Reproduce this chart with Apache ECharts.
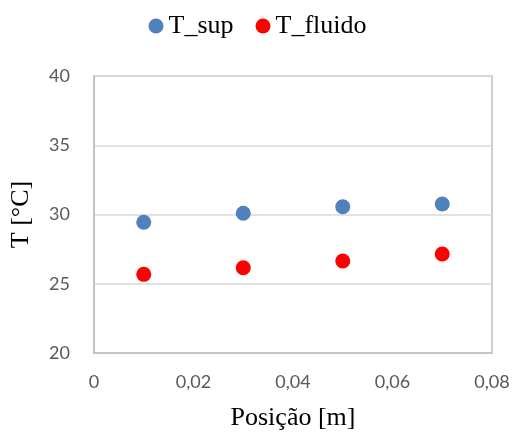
<!DOCTYPE html>
<html>
<head>
<meta charset="utf-8">
<script src="https://cdn.jsdelivr.net/npm/echarts@6/dist/echarts.min.js"></script>
<style>
  html, body { margin: 0; padding: 0; background: #fff; }
  #chart { width: 515px; height: 437px; }
</style>
</head>
<body>
<div id="chart"></div>
<script>
// Measurement positions along the channel [m]
const positions = [0.01, 0.03, 0.05, 0.07];
// Surface temperature [°C]
const tSup = [29.44, 30.09, 30.56, 30.76];
// Fluid temperature [°C]
const tFluido = [25.68, 26.16, 26.64, 27.15];

const seriesNames = ['T_sup', 'T_fluido'];
const xTickLabels = ['0', '0,02', '0,04', '0,06', '0,08'];

const pairs = (xs, ys) => xs.map((x, i) => [x, ys[i]]);

const serif = "'Liberation Serif', 'Times New Roman', serif";

const chart = echarts.init(document.getElementById('chart'), null, { renderer: 'canvas' });

chart.setOption({
  animation: false,
  backgroundColor: '#ffffff',
  legend: {
    top: 8,
    left: 'center',
    itemWidth: 15,
    itemHeight: 15,
    itemGap: 22,
    icon: 'circle',
    textStyle: { fontFamily: serif, fontSize: 26, color: '#000' },
    data: seriesNames
  },
  grid: {
    left: 90, right: 23, top: 76, bottom: 84,
    show: true, borderColor: '#bfbfbf', borderWidth: 1.5, containLabel: false
  },
  xAxis: {
    type: 'value',
    min: 0, max: 0.08, interval: 0.02,
    name: 'Posição [m]',
    nameLocation: 'middle',
    nameGap: 52,
    nameTextStyle: { fontFamily: serif, fontSize: 26, color: '#000' },
    axisLine: { show: true, lineStyle: { color: '#bfbfbf', width: 1.5 } },
    axisTick: { show: false },
    splitLine: { show: false },
    axisLabel: {
      margin: 20,
      fontFamily: 'Lato', fontSize: 18, color: '#595959',
      formatter: (v) => xTickLabels[Math.round(v / 0.02)]
    }
  },
  yAxis: {
    type: 'value',
    min: 20, max: 40, interval: 5,
    name: 'T [°C]',
    nameLocation: 'middle',
    nameGap: 60,
    nameRotate: 90,
    nameTextStyle: { fontFamily: serif, fontSize: 26, color: '#000' },
    axisLine: { show: true, lineStyle: { color: '#bfbfbf', width: 1.5 } },
    axisTick: { show: false },
    splitLine: { show: true, lineStyle: { color: '#d9d9d9', width: 1.5 } },
    axisLabel: { margin: 24, fontFamily: 'Lato', fontSize: 18, color: '#595959' }
  },
  series: [
    {
      name: seriesNames[0],
      type: 'scatter',
      symbol: 'circle',
      symbolSize: 15,
      itemStyle: { color: '#4f81bd', opacity: 1 },
      data: pairs(positions, tSup)
    },
    {
      name: seriesNames[1],
      type: 'scatter',
      symbol: 'circle',
      symbolSize: 15,
      itemStyle: { color: '#ff0000', opacity: 1 },
      data: pairs(positions, tFluido)
    }
  ]
});
</script>
</body>
</html>
